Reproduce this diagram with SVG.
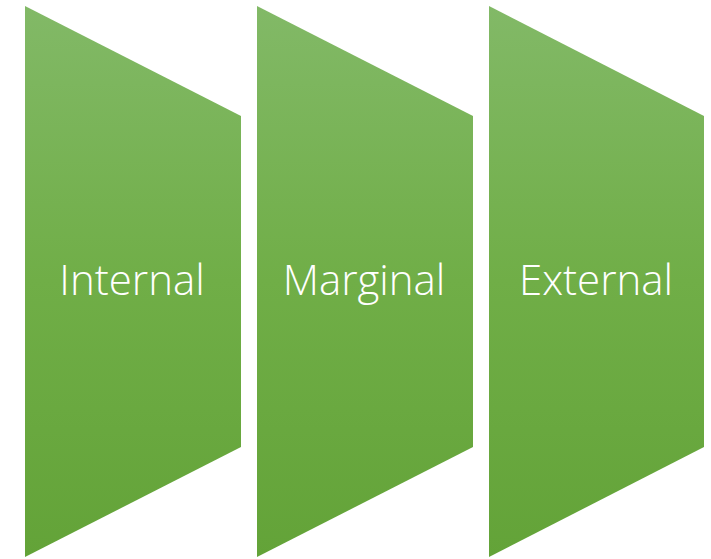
<svg xmlns="http://www.w3.org/2000/svg" width="711" height="559" viewBox="0 0 711 559">
<defs>
<linearGradient id="g" x1="0" y1="0" x2="0" y2="1">
<stop offset="0" stop-color="#82b967"/>
<stop offset="0.5" stop-color="#70ae47"/>
<stop offset="1" stop-color="#63a338"/>
</linearGradient>
</defs>
<style>
.s{fill:url(#g);}
.t{font-family:"Open Sans","Liberation Sans",sans-serif;font-weight:300;font-size:42px;fill:#ffffff;text-anchor:middle;}
</style>
<rect width="711" height="559" fill="#ffffff"/>
<g id="internal">
<polygon class="s" points="25,6 241,116 241,447 25,557"/>
<text class="t" x="132" y="295">Internal</text>
</g>
<g id="marginal">
<polygon class="s" points="257,6 473,116 473,447 257,557"/>
<text class="t" x="364" y="295">Marginal</text>
</g>
<g id="external">
<polygon class="s" points="489,6 704,116 704,447 489,557"/>
<text class="t" x="596" y="295">External</text>
</g>
<g id="connectors"></g>
</svg>
